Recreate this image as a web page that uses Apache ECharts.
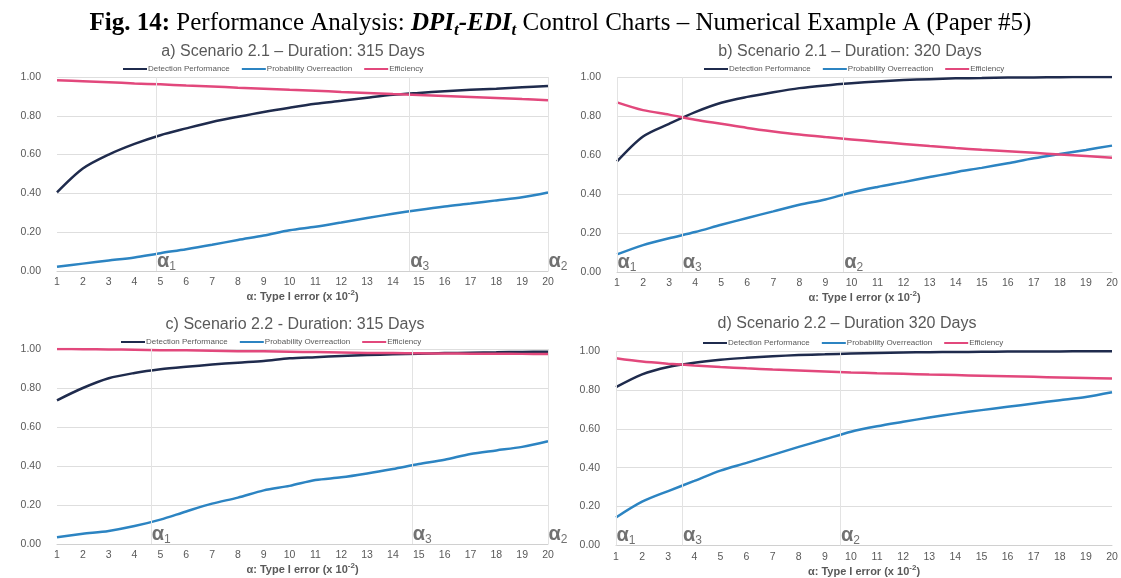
<!DOCTYPE html>
<html>
<head>
<meta charset="utf-8">
<script src="https://cdn.jsdelivr.net/npm/echarts@6/dist/echarts.min.js"></script>
<style>
  html, body { margin: 0; padding: 0; background: #ffffff; }
  #chart { width: 1121px; height: 578px; }
</style>
</head>
<body>
<div id="chart"></div>
<script>
// α: Type I error (x 10^-2)
const xTicks = [1, 2, 3, 4, 5, 6, 7, 8, 9, 10, 11, 12, 13, 14, 15, 16, 17, 18, 19, 20];
const seriesNames = ['Detection Performance', 'Probability Overreaction', 'Efficiency'];

// a) Scenario 2.1 – 315 days
const detA  = [0.405, 0.528, 0.600, 0.655, 0.700, 0.735, 0.768, 0.795, 0.820, 0.842, 0.862, 0.877, 0.893, 0.908, 0.918, 0.927, 0.934, 0.940, 0.947, 0.954];
const probA = [0.022, 0.038, 0.054, 0.070, 0.092, 0.112, 0.135, 0.160, 0.183, 0.210, 0.228, 0.250, 0.273, 0.295, 0.315, 0.333, 0.348, 0.364, 0.380, 0.405];
const effA  = [0.983, 0.978, 0.973, 0.967, 0.962, 0.956, 0.951, 0.945, 0.940, 0.934, 0.929, 0.923, 0.918, 0.912, 0.907, 0.902, 0.897, 0.892, 0.886, 0.880];

// b) Scenario 2.1 – 320 days
const detB  = [0.567, 0.695, 0.760, 0.820, 0.868, 0.898, 0.922, 0.943, 0.957, 0.968, 0.977, 0.984, 0.989, 0.993, 0.995, 0.997, 0.998, 0.999, 1.000, 1.000];
const probB = [0.090, 0.138, 0.173, 0.205, 0.242, 0.277, 0.311, 0.345, 0.372, 0.408, 0.436, 0.461, 0.487, 0.512, 0.534, 0.558, 0.583, 0.605, 0.626, 0.648];
const effB  = [0.870, 0.830, 0.807, 0.781, 0.760, 0.739, 0.721, 0.705, 0.692, 0.680, 0.668, 0.657, 0.646, 0.636, 0.627, 0.619, 0.611, 0.603, 0.595, 0.586];

// c) Scenario 2.2 – 315 days
const detC  = [0.737, 0.800, 0.850, 0.877, 0.896, 0.909, 0.920, 0.930, 0.939, 0.952, 0.958, 0.964, 0.969, 0.973, 0.976, 0.979, 0.981, 0.983, 0.985, 0.986];
const probC = [0.035, 0.052, 0.067, 0.092, 0.125, 0.167, 0.207, 0.238, 0.275, 0.298, 0.328, 0.342, 0.362, 0.385, 0.410, 0.432, 0.462, 0.480, 0.498, 0.527];
const effC  = [1.000, 0.999, 0.998, 0.996, 0.994, 0.993, 0.991, 0.989, 0.988, 0.986, 0.984, 0.982, 0.980, 0.979, 0.978, 0.977, 0.976, 0.976, 0.975, 0.974];

// d) Scenario 2.2 – 320 days
const detD  = [0.814, 0.880, 0.918, 0.940, 0.955, 0.965, 0.973, 0.979, 0.983, 0.987, 0.990, 0.992, 0.994, 0.995, 0.996, 0.997, 0.998, 0.998, 0.999, 0.999];
const probD = [0.144, 0.225, 0.280, 0.332, 0.385, 0.425, 0.466, 0.507, 0.546, 0.585, 0.613, 0.636, 0.658, 0.678, 0.696, 0.713, 0.730, 0.747, 0.764, 0.788];
const effD  = [0.963, 0.946, 0.935, 0.926, 0.918, 0.911, 0.905, 0.900, 0.895, 0.890, 0.886, 0.883, 0.879, 0.876, 0.873, 0.870, 0.867, 0.864, 0.861, 0.858];

// α1, α3, α2 positions on the error axis
const alphaA = [4.85, 14.65, 20];
const alphaB = [1, 3.5, 9.7];
const alphaC = [4.65, 14.75, 20];
const alphaD = [1, 3.55, 9.6];
const alphaSubs = ['1', '3', '2'];

const yTicks = [0, 0.2, 0.4, 0.6, 0.8, 1.0];

const panelTitles = [
  'a) Scenario 2.1 – Duration: 315 Days',
  'b) Scenario 2.1 – Duration: 320 Days',
  'c) Scenario 2.2 - Duration: 315 Days',
  'd) Scenario 2.2 – Duration 320 Days'
];

const panels = [
  { det: detA, prob: probA, eff: effA, alpha: alphaA },
  { det: detB, prob: probB, eff: effB, alpha: alphaB },
  { det: detC, prob: probC, eff: effC, alpha: alphaC },
  { det: detD, prob: probD, eff: effD, alpha: alphaD }
];

// layout of the four panels
const grids = [
  { left: 57,  top: 77,  width: 491, height: 194 },
  { left: 617, top: 77,  width: 495, height: 195 },
  { left: 57,  top: 349, width: 491, height: 195 },
  { left: 616, top: 351, width: 496, height: 196 }
];
const titlePos  = [[288, 39], [845, 39], [290, 312], [842, 311]];
const legendPos = [[118, 60], [699, 60], [116, 333], [698, 334]];

const colors = ['#1f2b4d', '#2c84c2', '#e2487c'];
const SANS = '"Liberation Sans", Arial, sans-serif';
const SERIF = '"Liberation Serif", "Times New Roman", serif';
const GREY = '#595959';

const toPairs = arr => xTicks.map((x, i) => [x, arr[i]]);

const option = {
  animation: false,
  backgroundColor: '#ffffff',
  title: [
    {
      text: '{b|Fig. 14:}{n| Performance Analysis: }{bi|DPI}{bs|t}{bi|-EDI}{bs|t}{n| Control Charts – Numerical Example A (Paper #5)}',
      left: 'center',
      top: 3,
      textStyle: {
        fontWeight: 'normal',
        rich: {
          b:  { fontFamily: SERIF, fontSize: 25, fontWeight: 'bold', color: '#000' },
          n:  { fontFamily: SERIF, fontSize: 25, fontWeight: 'normal', color: '#000' },
          bi: { fontFamily: SERIF, fontSize: 25, fontWeight: 'bold', fontStyle: 'italic', color: '#000' },
          bs: { fontFamily: SERIF, fontSize: 17, fontWeight: 'bold', fontStyle: 'italic', color: '#000', padding: [14, 0, 0, 0] }
        }
      }
    }
  ].concat(panelTitles.map((t, i) => ({
    text: t,
    left: titlePos[i][0],
    top: titlePos[i][1],
    textAlign: 'center',
    textStyle: { fontFamily: SANS, fontSize: 16, fontWeight: 'normal', color: GREY }
  }))),
  legend: grids.map((g, i) => ({
    data: seriesNames,
    left: legendPos[i][0],
    top: legendPos[i][1],
    itemWidth: 24,
    itemHeight: 8,
    itemGap: 12,
    icon: 'path://M0,3.2 L24,3.2 L24,5.2 L0,5.2 Z',
    textStyle: { fontFamily: SANS, fontSize: 8, color: GREY, padding: [0, 0, 0, -4] }
  })),
  grid: grids,
  xAxis: grids.map((g, i) => ({
    type: 'value',
    gridIndex: i,
    min: xTicks[0],
    max: xTicks[xTicks.length - 1],
    interval: 1,
    name: '{n|α: Type I error (x 10}{sup|-2}{n|)}',
    nameLocation: 'middle',
    nameGap: 18,
    nameTextStyle: {
      rich: {
        n:   { fontFamily: SANS, fontSize: 11, fontWeight: 'bold', color: GREY },
        sup: { fontFamily: SANS, fontSize: 8, fontWeight: 'bold', color: GREY, padding: [0, 0, 8, 0] }
      }
    },
    axisLine: { show: true, lineStyle: { color: '#d0d0d0', width: 1 } },
    axisTick: { show: false },
    splitLine: { show: false },
    axisLabel: { fontFamily: SANS, fontSize: 10.5, color: GREY, margin: 6 }
  })),
  yAxis: grids.map((g, i) => ({
    type: 'value',
    gridIndex: i,
    min: yTicks[0],
    max: yTicks[yTicks.length - 1],
    interval: 0.2,
    axisLine: { show: false },
    axisTick: { show: false },
    splitLine: { lineStyle: { color: '#dedede', width: 1 } },
    axisLabel: { fontFamily: SANS, fontSize: 10.5, color: GREY, margin: 16, formatter: v => v.toFixed(2) }
  })),
  series: []
};

panels.forEach((p, i) => {
  // α markers: thin vertical guides plus their labels
  option.series.push({
    type: 'scatter',
    xAxisIndex: i,
    yAxisIndex: i,
    symbolSize: 1,
    itemStyle: { color: 'rgba(0,0,0,0)' },
    silent: true,
    z: 1,
    data: p.alpha.map((x, k) => ({ value: [x, 0], sub: alphaSubs[k] })),
    label: {
      show: true,
      position: [1, -21],
      formatter: prm => '{a|α}{s|' + prm.data.sub + '}',
      rich: {
        a: { fontFamily: SANS, fontSize: 20, fontWeight: 'bold', color: '#4d4d4d' },
        s: { fontFamily: SANS, fontSize: 12, fontWeight: 'normal', color: '#4d4d4d', padding: [11, 0, 0, 0] }
      }
    },
    markLine: {
      silent: true,
      symbol: 'none',
      label: { show: false },
      lineStyle: { color: '#e3e3e3', width: 1, type: 'solid' },
      data: p.alpha.map(x => ({ xAxis: x }))
    }
  });
  [p.det, p.prob, p.eff].forEach((arr, k) => {
    option.series.push({
      name: seriesNames[k],
      type: 'line',
      xAxisIndex: i,
      yAxisIndex: i,
      data: toPairs(arr),
      symbol: 'none',
      smooth: 0.3,
      z: 3,
      lineStyle: { color: colors[k], width: 2.5 },
      itemStyle: { color: colors[k] }
    });
  });
});

const chart = echarts.init(document.getElementById('chart'), null, { renderer: 'canvas' });
chart.setOption(option);
</script>
</body>
</html>
